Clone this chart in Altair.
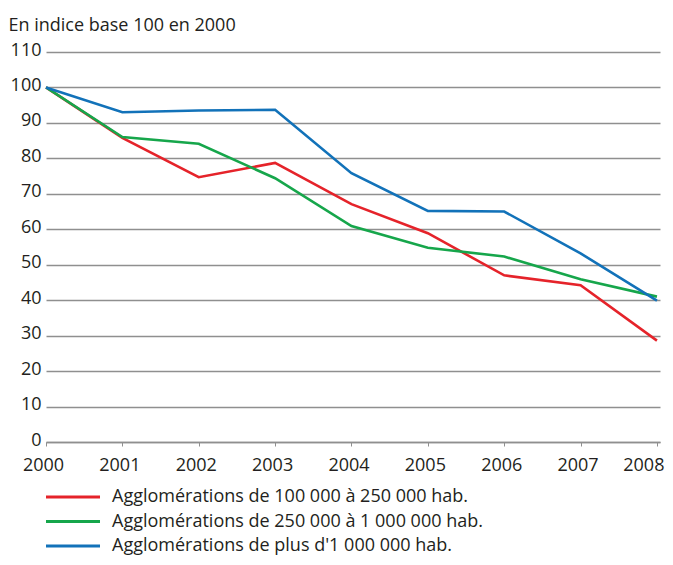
import altair as alt
import pandas as pd

years = [2000, 2001, 2002, 2003, 2004, 2005, 2006, 2007, 2008]
series_names = [
    "Agglomérations de 100 000 à 250 000 hab.",
    "Agglomérations de 250 000 à 1 000 000 hab.",
    "Agglomérations de plus d'1 000 000 hab.",
]
red_vals = [100, 85.8, 74.7, 78.7, 67.1, 58.9, 47.0, 44.2, 28.6]
green_vals = [100, 86.0, 84.1, 74.4, 60.9, 54.8, 52.3, 45.9, 41.0]
blue_vals = [100, 93.0, 93.5, 93.7, 75.8, 65.2, 65.0, 53.2, 39.9]
colors = ["#e5232a", "#16a64b", "#1272b9"]
y_ticks = [0, 10, 20, 30, 40, 50, 60, 70, 80, 90, 100, 110]
legend_rows = [0, 1, 2]

rows = []
for name, vals in zip(series_names, [red_vals, green_vals, blue_vals]):
    for yr, v in zip(years, vals):
        rows.append({"annee": yr, "valeur": v, "serie": name})
df = pd.DataFrame(rows)
legend_df = pd.DataFrame({"serie": series_names, "rang": legend_rows})

FONT = "Open Sans"
TXT = "#231f20"
color_scale = alt.Scale(domain=series_names, range=colors)

lines = alt.Chart(df).mark_line(strokeWidth=2.6).encode(
    x=alt.X(
        "annee:Q",
        scale=alt.Scale(domain=[2000, 2008.04], nice=False, zero=False),
        axis=alt.Axis(
            values=years, format="d", title=None, grid=False,
            domainColor="#8f8f8f", domainWidth=1.5,
            tickColor="#8f8f8f", tickSize=4, tickWidth=1,
            labelFont=FONT, labelFontSize=18, labelColor=TXT,
            labelBaseline="alphabetic", labelPadding=24, labelFlush=False,
            labelAlign={"condition": {"test": "datum.value == 2008", "value": "right"}, "value": "center"},
            labelOffset={"condition": {"test": "datum.value == 2008", "value": 7}, "value": -3},
        ),
    ),
    y=alt.Y(
        "valeur:Q",
        scale=alt.Scale(domain=[0, 110], nice=False),
        axis=alt.Axis(
            values=y_ticks, format="d", title="En indice base 100 en 2000",
            grid=True, gridColor="#8f8f8f", gridWidth=1.5,
            domain=False, ticks=False,
            labelFont=FONT, labelFontSize=18, labelColor=TXT,
            labelBaseline="alphabetic", labelOffset=3, labelPadding=5,
            titleFont=FONT, titleFontSize=18, titleFontWeight="normal", titleColor=TXT,
            titleAngle=0, titleAlign="left", titleBaseline="alphabetic",
            titleX=-38, titleY=-22,
        ),
    ),
    color=alt.Color("serie:N", scale=color_scale, legend=None),
)

leg_y = alt.Y("rang:Q", scale=alt.Scale(domain=[0, 2], range=[445, 494], nice=False, zero=False), axis=None)

leg_rules = alt.Chart(legend_df).mark_rule(strokeWidth=3).encode(
    x=alt.value(0), x2=alt.value(54), y=leg_y,
    color=alt.Color("serie:N", scale=color_scale, legend=None),
)
leg_text = alt.Chart(legend_df).mark_text(
    align="left", baseline="middle", font=FONT, fontSize=18, color=TXT
).encode(x=alt.value(66), y=leg_y, text="serie:N")

chart = alt.layer(lines, leg_rules, leg_text).resolve_scale(y="independent").properties(
    width=614, height=390,
    padding={"left": 38, "top": 44, "right": 5, "bottom": 115},
    autosize=alt.AutoSizeParams(type="none"),
).configure_view(stroke=None)

chart.save("out.html", embed_options={"renderer": "svg", "actions": False})
